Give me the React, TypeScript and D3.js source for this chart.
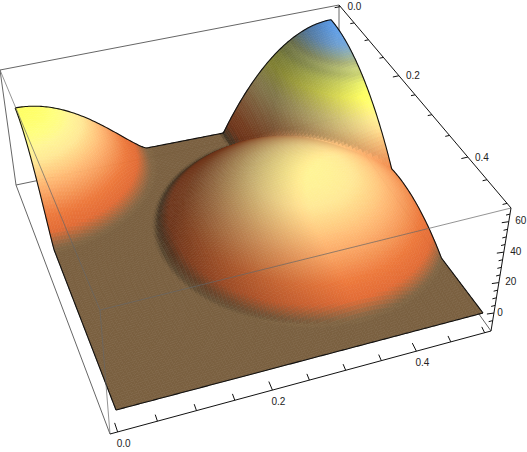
import React, { useEffect, useRef } from 'react';
import * as d3 from 'd3';

type Pt = [number, number];

const WIDTH = 527;
const HEIGHT = 452;

// tick values
const xTicks = [0, 0.05, 0.1, 0.15, 0.2, 0.25, 0.3, 0.35, 0.4, 0.45, 0.5];
const yTicks = [0, 0.05, 0.1, 0.15, 0.2, 0.25, 0.3, 0.35, 0.4, 0.45, 0.5];
const zTicks = [-5, 0, 5, 10, 15, 20, 25, 30, 35, 40, 45, 50, 55, 60, 65];
const xLabels = [0, 0.2, 0.4];
const yLabels = [0, 0.2, 0.4];
const zLabels = [0, 20, 40, 60];

// the three humps on the surface
const bumpX = [0, 0.5, 0.345];
const bumpY = [0, 0, 0.245];
const bumpRadiusX = [0.19, 0.185, 0.205];
const bumpRadiusY = [0.19, 0.25, 0.21];
const bumpHeight = [45, 66, 36];
const bumpPower = [1.3, 1.0, 1.0];

// colour against height
const rampZ = [0, 1.5, 6, 12, 22, 32, 36, 45, 50, 53, 55, 57, 62, 66];
const rampColors = ['#7a6040', '#8f6440', '#d96834', '#e4743a', '#f2a868', '#ffe090', '#ffec90', '#ffff60', '#e4ea68', '#c0c86c', '#c4cc78', '#a8b078', '#70a0d0', '#5898e4'];

const boxBottom: Pt[] = [[16, 185], [339, 118], [491, 331], [110, 434]];
const boxTop: Pt[] = [[0, 70], [339, 5], [511, 208], [100, 310]];
const floorQuad: Pt[] = [[24, 172], [331, 112], [483, 313], [116, 410]];

// square to quad homography, corners in order (0,0) (1,0) (1,1) (0,1)
function quadMap(q: Pt[]) {
  const [[x0, y0], [x1, y1], [x2, y2], [x3, y3]] = q;
  const sx = x0 - x1 + x2 - x3;
  const sy = y0 - y1 + y2 - y3;
  const dx1 = x1 - x2, dx2 = x3 - x2, dy1 = y1 - y2, dy2 = y3 - y2;
  const den = dx1 * dy2 - dx2 * dy1;
  const g = (sx * dy2 - dx2 * sy) / den;
  const h = (dx1 * sy - sx * dy1) / den;
  return (s: number, t: number): Pt => {
    const w = g * s + h * t + 1;
    return [
      ((x1 - x0 + g * x1) * s + (x3 - x0 + h * x3) * t + x0) / w,
      ((y1 - y0 + g * y1) * s + (y3 - y0 + h * y3) * t + y0) / w,
    ];
  };
}

const bottomMap = quadMap(boxBottom);
const topMap = quadMap(boxTop);
const floorMap = quadMap(floorQuad);

const sScale = d3.scaleLinear().domain([-0.0095, 0.5095]).range([0, 1]);
const tScale = d3.scaleLinear().domain([-0.005, 0.5095]).range([0, 1]);
const wScale = d3.scaleLinear().domain([-11.8, 69]).range([0, 1]);
const uScale = d3.scaleLinear().domain([0, 0.5]).range([0, 1]);

// point on the box, axes use this
function boxPoint(s: number, t: number, w: number): Pt {
  const a = bottomMap(s, t);
  const b = topMap(s, t);
  return [a[0] + (b[0] - a[0]) * w, a[1] + (b[1] - a[1]) * w];
}

// point on the surface
function surfacePoint(x: number, y: number, z: number): Pt {
  const s = uScale(x), t = uScale(y);
  const f = floorMap(s, t);
  const a = bottomMap(s, t);
  const b = topMap(s, t);
  const k = z / (69 + 11.8);
  return [f[0] + (b[0] - a[0]) * k, f[1] + (b[1] - a[1]) * k];
}

function surfaceZ(x: number, y: number) {
  let z = 0;
  bumpX.forEach((bx, i) => {
    const r2 = ((x - bx) / bumpRadiusX[i]) ** 2 + ((y - bumpY[i]) / bumpRadiusY[i]) ** 2;
    if (r2 < 1) z = Math.max(z, bumpHeight[i] * Math.pow(1 - r2, bumpPower[i]));
  });
  return z;
}

const ramp = d3.scaleLinear<string>().domain(rampZ).range(rampColors).interpolate(d3.interpolateRgb).clamp(true);
const light = [0.5, 0.45, 0.74];

function shadeColor(x: number, y: number, z: number) {
  const e = 0.007;
  const k = 0.5 * (0.5 / 60);
  const zx = ((surfaceZ(x + e, y) - surfaceZ(x - e, y)) / (2 * e)) * k;
  const zy = ((surfaceZ(x, y + e) - surfaceZ(x, y - e)) / (2 * e)) * k;
  const len = Math.hypot(zx, zy, 1);
  const d = (-zx * light[0] - zy * light[1] + light[2]) / len / light[2];
  const shade = Math.max(0.5, Math.min(1.04, 0.5 + 0.5 * d));
  const c = d3.rgb(ramp(z));
  return d3.rgb(c.r * shade, c.g * shade, c.b * shade).formatHex();
}

export default function App() {
  const ref = useRef<SVGSVGElement>(null);

  useEffect(() => {
    const svg = d3.select(ref.current);
    svg.selectAll('*').remove();
    const line = d3.line<Pt>();
    const gray = '#666666';

    const drawEdge = (a: Pt, b: Pt, stroke: string, opacity = 1) =>
      svg.append('path').attr('d', line([a, b])).attr('fill', 'none')
        .attr('stroke', stroke).attr('stroke-opacity', opacity).attr('stroke-width', 1);

    // edges behind the surface
    drawEdge(boxTop[0], boxTop[1], gray);
    drawEdge(boxTop[0], boxBottom[0], gray);
    drawEdge(boxTop[1], boxBottom[1], gray);
    drawEdge(boxBottom[0], boxBottom[1], gray);
    drawEdge(boxBottom[1], boxBottom[2], gray);

    // surface, back to front
    const n = 120;
    const grid = d3.range(n + 1).map(i => (i / n) * 0.5);
    const quads: { d: string; fill: string; depth: number }[] = [];
    for (let i = 0; i < n; i++) {
      for (let j = 0; j < n; j++) {
        const x0 = grid[i], x1 = grid[i + 1], y0 = grid[j], y1 = grid[j + 1];
        const corners: Pt[] = [[x0, y0], [x1, y0], [x1, y1], [x0, y1]];
        const pts = corners.map(c => surfacePoint(c[0], c[1], surfaceZ(c[0], c[1])));
        const mx = (x0 + x1) / 2, my = (y0 + y1) / 2;
        quads.push({
          d: line(pts) + 'Z',
          fill: shadeColor(mx, my, surfaceZ(mx, my)),
          depth: floorMap(uScale(mx), uScale(my))[1],
        });
      }
    }
    quads.sort((a, b) => a.depth - b.depth);
    svg.append('g').selectAll('path').data(quads).join('path')
      .attr('d', d => d.d).attr('fill', d => d.fill)
      .attr('stroke', d => d.fill).attr('stroke-width', 0.6);

    // black outline of the surface
    const fine = d3.range(0, 201).map(i => (i / 200) * 0.5);
    const outlines: Pt[][] = [
      fine.map(v => surfacePoint(v, 0, surfaceZ(v, 0))),
      fine.map(v => surfacePoint(0.5, v, surfaceZ(0.5, v))),
      fine.map(v => surfacePoint(v, 0.5, surfaceZ(v, 0.5))),
      fine.map(v => surfacePoint(0, v, surfaceZ(0, v))),
    ];
    outlines.forEach(o => {
      svg.append('path').attr('d', line(o)).attr('fill', 'none')
        .attr('stroke', '#111').attr('stroke-width', 1.1);
    });

    // edges in front of the surface
    drawEdge(boxTop[0], boxTop[3], gray, 0.7);
    drawEdge(boxTop[3], boxTop[2], gray, 0.7);
    drawEdge(boxTop[3], boxBottom[3], gray, 0.7);
    drawEdge(boxBottom[0], boxBottom[3], gray);
    drawEdge(boxBottom[2], boxTop[2], '#111');
    drawEdge(boxTop[1], boxTop[2], '#111');
    drawEdge(boxBottom[3], boxBottom[2], '#111');

    const label = (p: Pt, text: string) =>
      svg.append('text').attr('x', p[0]).attr('y', p[1]).attr('text-anchor', 'middle')
        .attr('dominant-baseline', 'middle').attr('font-family', '"Liberation Sans", Arial, sans-serif')
        .attr('font-size', 10).attr('fill', '#222').text(text);

    const fmt = d3.format('.1f');

    // x axis along the front bottom edge
    xTicks.forEach(v => {
      const major = xLabels.includes(v);
      const a = boxPoint(sScale(v), 1, 0);
      const b = boxPoint(sScale(v), major ? 0.975 : 0.983, 0.012);
      drawEdge(a, b, '#111');
    });
    xLabels.forEach(v => {
      const a = boxPoint(sScale(v), 1, 0);
      label([a[0] + 6, a[1] + 12], fmt(v));
    });

    // y axis along the back right top edge
    yTicks.forEach(v => {
      const major = yLabels.includes(v);
      const a = topMap(1, tScale(v));
      const b = topMap(major ? 0.982 : 0.988, tScale(v));
      drawEdge(a, b, '#111');
    });
    yLabels.forEach(v => {
      const a = topMap(1, tScale(v));
      label([a[0] + 14, a[1] + 1], fmt(v));
    });

    // z axis on the right corner
    zTicks.forEach(v => {
      const major = zLabels.includes(v);
      const a = boxPoint(1, 1, wScale(v));
      drawEdge(a, [a[0] - (major ? 7 : 4), a[1] + 1], '#111');
    });
    zLabels.forEach(v => {
      const a = boxPoint(1, 1, wScale(v));
      label([a[0] + 7 + (v === 0 ? 0 : 5) - (v === 0 ? 1 : 0), a[1]], d3.format('d')(v));
    });
  }, []);

  return (
    <svg
      ref={ref}
      width={WIDTH}
      height={HEIGHT}
      style={{ position: 'absolute', left: 0, top: 0, background: '#fff' }}
    />
  );
}
